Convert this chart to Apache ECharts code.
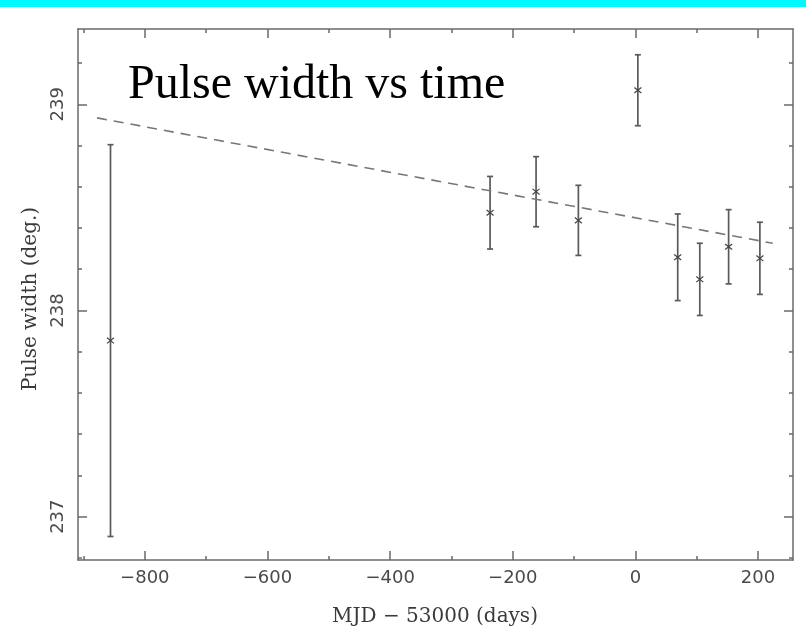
<!DOCTYPE html>
<html>
<head>
<meta charset="utf-8">
<script src="https://cdn.jsdelivr.net/npm/echarts@6/dist/echarts.min.js"></script>
<style>
html,body{margin:0;padding:0;background:#fff;}
#chart{width:806px;height:631px;}
</style>
</head>
<body>
<div id="chart"></div>
<script>
// Data
const days   = [-856, -237, -162, -93, 4, 69, 105, 152, 203];
const widths = [237.854, 238.474, 238.576, 238.437, 239.068, 238.258, 238.151, 238.309, 238.253];
const errors = [0.95, 0.176, 0.17, 0.17, 0.172, 0.21, 0.175, 0.18, 0.175];
const fitLine = [[-878, 238.934], [224, 238.326]];

const xMajorTicks = [-800, -600, -400, -200, 0, 200];
const xMinorTicks = [-900, -700, -500, -300, -100, 100];
const yMajorTicks = [237, 238, 239];
const yMinorTicks = [236.8, 237.2, 237.4, 237.6, 237.8, 238.2, 238.4, 238.6, 238.8, 239.2];

const titleText = 'Pulse width vs time';
const xName = 'MJD \u2212 53000 (days)';
const yName = 'Pulse width (deg.)';

const X_MIN = -909, X_MAX = 257, Y_MIN = 236.79, Y_MAX = 239.365;

const frameColor = '#6a6a6a';
const labelColor = '#4a4a4a';

function axisBase(pos, isX, ticks, len, showLine, showLabel) {
  return {
    type: 'value',
    position: pos,
    min: isX ? X_MIN : Y_MIN,
    max: isX ? X_MAX : Y_MAX,
    splitLine: {show: false},
    axisLine: {show: showLine, onZero: false, lineStyle: {color: frameColor, width: 1.5}},
    axisTick: {show: true, inside: true, length: len, customValues: ticks,
               lineStyle: {color: frameColor, width: 1.5}},
    axisLabel: showLabel ? {
      show: true, customValues: ticks, color: labelColor,
      fontFamily: 'DejaVu Sans', fontSize: 18,
      formatter: v => String(Math.round(v)).replace('-', '\u2212')
    } : {show: false}
  };
}

const xAxes = [
  axisBase('bottom', true, xMajorTicks, 9, true, true),
  axisBase('bottom', true, xMinorTicks, 4, false, false),
  axisBase('top', true, xMajorTicks, 9, true, false),
  axisBase('top', true, xMinorTicks, 4, false, false)
];
xAxes[0].axisLabel.margin = 9;

const yAxes = [
  axisBase('left', false, yMajorTicks, 9, true, true),
  axisBase('left', false, yMinorTicks, 4, false, false),
  axisBase('right', false, yMajorTicks, 9, true, false),
  axisBase('right', false, yMinorTicks, 4, false, false)
];
yAxes[0].axisLabel.rotate = 90;
yAxes[0].axisLabel.margin = 11;

const errData = days.map((d, i) => [d, widths[i], errors[i]]);

const chart = echarts.init(document.getElementById('chart'), null, {renderer: 'canvas'});
chart.setOption({
  animation: false,
  backgroundColor: '#ffffff',
  grid: {left: 78, top: 29, right: 13, bottom: 71, containLabel: false},
  xAxis: xAxes,
  yAxis: yAxes,
  title: {
    text: titleText, left: 123, top: 56,
    textStyle: {fontFamily: 'Liberation Serif', fontSize: 48, fontWeight: 'normal', color: '#000'}
  },
  graphic: [
    {
      type: 'rect', left: 0, top: 0, shape: {x: 0, y: 0, width: 806, height: 7},
      style: {fill: '#00f8ff'}, z: 100
    },
    {
      type: 'text', x: 435, y: 617,
      style: {text: xName, fontFamily: 'DejaVu Serif', fontSize: 20, fill: '#3a3a3a',
              textAlign: 'center', textVerticalAlign: 'middle'}
    },
    {
      type: 'text', x: 31, y: 299, rotation: Math.PI / 2,
      style: {text: yName, fontFamily: 'DejaVu Serif', fontSize: 20, fill: '#3a3a3a',
              textAlign: 'center', textVerticalAlign: 'middle'}
    }
  ],
  series: [
    {
      type: 'line', xAxisIndex: 0, yAxisIndex: 0,
      data: fitLine, symbol: 'none',
      lineStyle: {color: '#777', width: 1.6, type: [10, 7]}
    },
    {
      type: 'custom', xAxisIndex: 0, yAxisIndex: 0,
      data: errData,
      renderItem: function (params, api) {
        const x = api.value(0), y = api.value(1), e = api.value(2);
        const pc = api.coord([x, y]);
        const pt = api.coord([x, y + e]);
        const pb = api.coord([x, y - e]);
        const st = {stroke: '#5a5a5a', lineWidth: 1.7};
        const cap = 3, m = 3.5;
        return {
          type: 'group',
          children: [
            {type: 'line', shape: {x1: pt[0], y1: pt[1], x2: pb[0], y2: pb[1]}, style: st},
            {type: 'line', shape: {x1: pt[0] - cap, y1: pt[1], x2: pt[0] + cap, y2: pt[1]}, style: st},
            {type: 'line', shape: {x1: pb[0] - cap, y1: pb[1], x2: pb[0] + cap, y2: pb[1]}, style: st},
            {type: 'line', shape: {x1: pc[0] - m, y1: pc[1] - m * 0.8, x2: pc[0] + m, y2: pc[1] + m * 0.8}, style: {stroke: '#444', lineWidth: 1.2}},
            {type: 'line', shape: {x1: pc[0] - m, y1: pc[1] + m * 0.8, x2: pc[0] + m, y2: pc[1] - m * 0.8}, style: {stroke: '#444', lineWidth: 1.2}}
          ]
        };
      }
    }
  ]
});
</script>
</body>
</html>
